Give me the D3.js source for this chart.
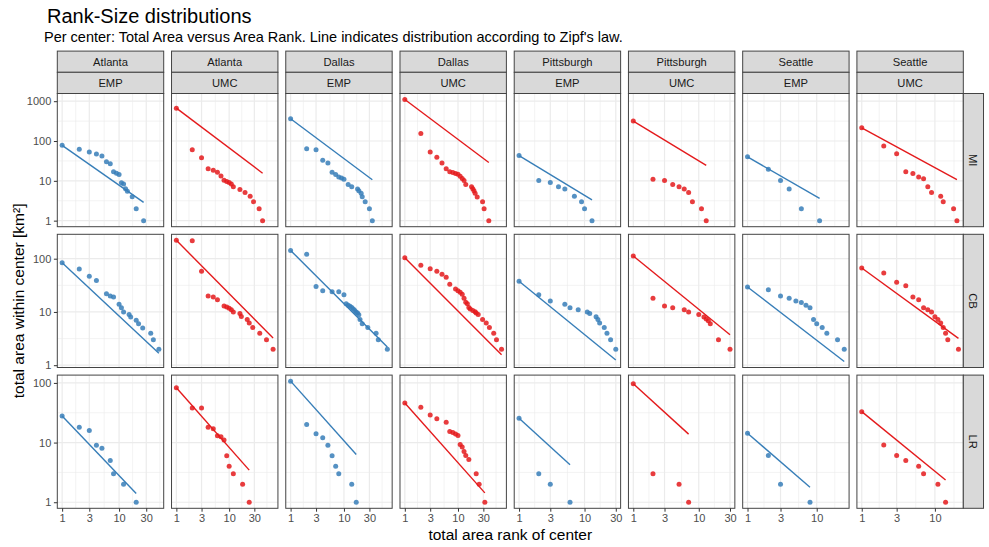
<!DOCTYPE html>
<html>
<head>
<meta charset="utf-8">
<script src="https://cdn.jsdelivr.net/npm/d3@7/dist/d3.min.js"></script>
<style>
  body { margin: 0; background: #fff; }
  svg text { font-family: "Liberation Sans", Arial, Helvetica, sans-serif; }
</style>
</head>
<body>
<svg id="chart" width="989" height="547"></svg>
<script>
// Facet labels
const cities = ["Atlanta", "Atlanta", "Dallas", "Dallas", "Pittsburgh", "Pittsburgh", "Seattle", "Seattle"];
const centerTypes = ["EMP", "UMC", "EMP", "UMC", "EMP", "UMC", "EMP", "UMC"];
const zones = ["MI", "CB", "LR"];
const xTickValues = [1, 3, 10, 30];
const yTickValues = [1, 10, 100, 1000];
const typeColors = { EMP: "#377EB8", UMC: "#E41A1C" };

// Centers as [area rank, total area in km²]
const atlEmpMI = [[1,78],[2,62],[3,53],[4,47],[5,42],[6,30],[7,27],[8,17],[9,15.5],[10,14.5],[11,9],[12,8.3],[13,6.3],[14,5.5],[17,4],[20,2],[27,1]];
const atlEmpCB = [[1,84],[2,64],[3,47],[4,39],[6,22],[7,20],[8,19],[10,14],[11,12],[12,10],[15,9],[16,8],[20,7],[22,6],[26,5],[36,4],[40,3],[50,2]];
const atlEmpLR = [[1,28],[2,18],[3,16],[4,9],[5,8],[7,5],[8,3],[12,2],[20,1]];

const atlUmcMI = [[1,668],[2,60],[3,38],[4,20],[5,18.5],[6,16.5],[7,13.3],[8,10.4],[9,9.6],[10,9.1],[11,8.3],[12,7.1],[16,6.1],[20,5.1],[25,4.1],[29,3],[37,2],[43,1]];
const atlUmcCB = [[1,221],[2,218],[3,58],[4,20],[5,19],[6,17],[8,13],[9,12.4],[10,11.7],[11,11],[12,10],[16,9.3],[17,8.2],[22,7.2],[24,6.2],[28,5.1],[38,4],[51,3],[68,2]];
const atlUmcLR = [[1,83],[2,38],[3,38],[4,18],[5,17],[6,13],[7,12.5],[8,11],[9,6],[10,4],[12,3],[18,2],[24,1]];

const dalEmpMI = [[1,362],[2,64],[3,60],[4,33],[5,28],[6,16.5],[7,14.4],[8,12.4],[9,11.7],[10,11],[12,8.1],[14,7.1],[18,6.2],[19,5.6],[21,4.9],[22,4],[25,3],[30,2],[34,1]];
const dalEmpCB = [[1,143],[2,121],[3,30],[4,25],[6,24],[8,24],[10,21],[11,14.3],[12,13.3],[13,12.8],[14,12.1],[15,11.4],[16,10.7],[17,9.9],[18,9.6],[19,8.9],[20,7.2],[22,6],[28,5.1],[40,4],[44,3],[65,2]];
const dalEmpLR = [[1,107],[2,20],[3,14],[4,12],[5,9],[6,6],[7,4],[8,3],[14,2],[17,1]];

const dalUmcMI = [[1,1100],[2,155],[3,53],[4,39],[5,28],[6,20],[7,16.8],[8,16.2],[9,15.3],[10,14.7],[11,13.1],[12,11.4],[13,10.2],[14,8.1],[18,7.1],[19,6.3],[20,5.6],[21,4.9],[23,3.9],[29,3],[31,2],[38,1]];
const dalUmcCB = [[1,104],[2,75],[3,65],[4,58],[5,51],[6,45],[7,33],[9,27],[10,25],[11,23.4],[12,21.4],[13,18],[14,15.2],[15,14.3],[16,12.1],[17,11.4],[19,10.7],[21,10.1],[22,9.6],[24,9],[29,7.2],[34,6.2],[39,5.1],[47,4],[53,3],[66,2]];
const dalUmcLR = [[1,46],[2,39],[3,29],[4,25],[6,22],[7,15.4],[8,14.8],[9,13.9],[10,13.2],[11,9.3],[12,8.4],[13,7.1],[14,6.1],[16,5.2],[22,3],[25,2],[32,1]];

const pitEmpMI = [[1,43],[2,10.2],[3,9.1],[4,7.1],[5,6.2],[7,4.1],[9,3],[10,2],[13,1]];
const pitEmpCB = [[1,37.6],[2,21],[3,16],[5,14],[6,12],[8,11],[11,10],[12,9.3],[15,8.1],[16,7.2],[17,6.2],[20,5.1],[22,4],[25,3],[30,2]];
const pitEmpLR = [[1,25.6],[2,3],[3,2],[6,1]];

const pitUmcMI = [[1,316],[2,11],[3,10.2],[4,8.1],[5,7.1],[6,6.2],[7,5.1],[8,3],[11,2],[13,1]];
const pitUmcCB = [[1,112],[2,18],[3,13],[4,12],[6,11],[7,10],[10,9],[12,8],[13,7.4],[14,6.8],[15,6],[20,3],[30,2]];
const pitUmcLR = [[1,97],[2,3],[5,2],[7,1]];

const seaEmpMI = [[1,40],[2,19.6],[3,10.2],[4,6.2],[6,2],[11,1]];
const seaEmpCB = [[1,29.4],[2,26],[3,20],[4,18],[5,16],[6,15],[7,13.3],[8,12],[9,7.2],[10,6],[12,5.1],[14,4],[20,3],[25,2]];
const seaEmpLR = [[1,14.3],[2,6.1],[3,2],[8,1]];

const seaUmcMI = [[1,215],[2,75],[3,48],[4,16.8],[5,15.3],[6,12.4],[7,11.2],[8,7.1],[9,5.1],[12,4.1],[13,3],[18,2],[20,1]];
const seaUmcCB = [[1,67],[2,54],[3,36],[4,31],[5,19],[6,17],[7,12],[8,11],[9,10],[10,8.1],[11,7.2],[12,6.2],[13,5.1],[14,4],[15,3],[21,2]];
const seaUmcLR = [[1,33],[2,9.1],[3,6.1],[4,5],[6,4],[7,3],[11,2],[14,1]];

// grid[column][row]
const grid = [
  [atlEmpMI, atlEmpCB, atlEmpLR],
  [atlUmcMI, atlUmcCB, atlUmcLR],
  [dalEmpMI, dalEmpCB, dalEmpLR],
  [dalUmcMI, dalUmcCB, dalUmcLR],
  [pitEmpMI, pitEmpCB, pitEmpLR],
  [pitUmcMI, pitUmcCB, pitUmcLR],
  [seaEmpMI, seaEmpCB, seaEmpLR],
  [seaUmcMI, seaUmcCB, seaUmcLR]
];

// Zipf's law reference: area of the largest center divided by rank
function zipfLine(pts) {
  const first = pts[0], last = pts[pts.length - 1];
  return [[first[0], first[1]], [last[0], first[1] / last[0]]];
}

// ---- layout ----
const svg = d3.select("#chart");
const panelX0 = 57.3, panelW = 106.4, gapX = 7.83;
const panelY0 = 93.5, panelH = 133.2, gapY = 7.6;
const stripH = 21.2, stripW = 20.2;
const tickLen = 3.4, tickPad = 2.6;
const axisFont = 11, stripFont = 11.2;
const frameColor = "#444";

const colLeft = c => panelX0 + c * (panelW + gapX);
const rowTop = r => panelY0 + r * (panelH + gapY);

// log-scale domain with 5% expansion in log space
function expandedLogDomain(values) {
  const lo = Math.log10(d3.min(values)), hi = Math.log10(d3.max(values));
  const pad = (hi - lo) * 0.05;
  return [Math.pow(10, lo - pad), Math.pow(10, hi + pad)];
}

// minor breaks halfway (in log space) between major breaks, extended one step beyond
function minorBreaks(majors, domain) {
  const lim = domain.map(Math.log10);
  let b = majors.filter(v => v >= domain[0] && v <= domain[1]).map(Math.log10);
  if (b.length < 2) return [];
  if (b[0] > lim[0]) b = [b[0] - (b[1] - b[0])].concat(b);
  const n = b.length;
  if (b[n - 1] < lim[1]) b = b.concat([b[n - 1] + (b[n - 1] - b[n - 2])]);
  const out = [];
  for (let i = 0; i < b.length - 1; i++) out.push((b[i] + b[i + 1]) / 2);
  return out.filter(v => v >= lim[0] && v <= lim[1]).map(v => Math.pow(10, v));
}

const xScales = grid.map((col, c) => {
  const ranks = col.flatMap(pts => pts.map(p => p[0]));
  return d3.scaleLog().domain(expandedLogDomain(ranks)).range([colLeft(c), colLeft(c) + panelW]);
});
const yScales = zones.map((z, r) => {
  const vals = grid.flatMap(col => col[r].map(p => p[1]).concat(zipfLine(col[r]).map(p => p[1])));
  return d3.scaleLog().domain(expandedLogDomain(vals)).range([rowTop(r) + panelH, rowTop(r)]);
});

// ---- titles ----
svg.append("text").attr("x", 47).attr("y", 23)
  .attr("font-size", 20).attr("fill", "#000").text("Rank-Size distributions");
svg.append("text").attr("x", 44).attr("y", 41.5)
  .attr("font-size", 14.5).attr("fill", "#000")
  .text("Per center: Total Area versus Area Rank. Line indicates distribution according to Zipf's law.");

// ---- panels ----
grid.forEach((col, c) => {
  const x = xScales[c];
  const color = typeColors[centerTypes[c]];
  col.forEach((pts, r) => {
    const y = yScales[r];
    const g = svg.append("g");
    const left = colLeft(c), top = rowTop(r);
    g.append("rect").attr("x", left).attr("y", top).attr("width", panelW).attr("height", panelH).attr("fill", "#fff");

    const xMaj = xTickValues.filter(v => v >= x.domain()[0] && v <= x.domain()[1]);
    const yMaj = yTickValues.filter(v => v >= y.domain()[0] && v <= y.domain()[1]);
    const xMin = minorBreaks([0.3, 1, 3, 10, 30, 100], x.domain());
    const yMin = minorBreaks([0.1, 1, 10, 100, 1000, 10000], y.domain());

    g.selectAll(".vmin").data(xMin).join("line")
      .attr("x1", d => x(d)).attr("x2", d => x(d)).attr("y1", top).attr("y2", top + panelH)
      .attr("stroke", "#EBEBEB").attr("stroke-width", 0.6);
    g.selectAll(".hmin").data(yMin).join("line")
      .attr("x1", left).attr("x2", left + panelW).attr("y1", d => y(d)).attr("y2", d => y(d))
      .attr("stroke", "#EBEBEB").attr("stroke-width", 0.6);
    g.selectAll(".vmaj").data(xMaj).join("line")
      .attr("x1", d => x(d)).attr("x2", d => x(d)).attr("y1", top).attr("y2", top + panelH)
      .attr("stroke", "#EBEBEB").attr("stroke-width", 1.2);
    g.selectAll(".hmaj").data(yMaj).join("line")
      .attr("x1", left).attr("x2", left + panelW).attr("y1", d => y(d)).attr("y2", d => y(d))
      .attr("stroke", "#EBEBEB").attr("stroke-width", 1.2);

    // Zipf reference line
    g.append("path").datum(zipfLine(pts))
      .attr("d", d3.line().x(d => x(d[0])).y(d => y(d[1])))
      .attr("fill", "none").attr("stroke", color).attr("stroke-width", 1.4);

    // centers
    g.selectAll("circle").data(pts).join("circle")
      .attr("cx", d => x(d[0])).attr("cy", d => y(d[1])).attr("r", 2.5)
      .attr("fill", color).attr("fill-opacity", 0.85);

    g.append("rect").attr("x", left).attr("y", top).attr("width", panelW).attr("height", panelH)
      .attr("fill", "none").attr("stroke", frameColor).attr("stroke-width", 1);

    // axes on the outer panels
    if (c === 0) {
      const ax = svg.append("g").attr("transform", `translate(${left},0)`)
        .call(d3.axisLeft(y).tickValues(yMaj).tickFormat(d => String(d)).tickSize(tickLen).tickPadding(tickPad));
      ax.select(".domain").remove();
      ax.selectAll("line").attr("stroke", "#333");
      ax.selectAll("text").attr("fill", "#4D4D4D").attr("font-size", axisFont).attr("font-family", null);
    }
    if (r === zones.length - 1) {
      const ax = svg.append("g").attr("transform", `translate(0,${top + panelH})`)
        .call(d3.axisBottom(x).tickValues(xMaj).tickFormat(d => String(d)).tickSize(tickLen).tickPadding(tickPad));
      ax.select(".domain").remove();
      ax.selectAll("line").attr("stroke", "#333");
      ax.selectAll("text").attr("fill", "#4D4D4D").attr("font-size", axisFont).attr("font-family", null);
    }
  });

  // column strips: city over center type
  [cities[c], centerTypes[c]].forEach((label, i) => {
    const sy = panelY0 - stripH * (2 - i);
    svg.append("rect").attr("x", colLeft(c)).attr("y", sy).attr("width", panelW).attr("height", stripH)
      .attr("fill", "#D9D9D9").attr("stroke", frameColor).attr("stroke-width", 1);
    svg.append("text").attr("x", colLeft(c) + panelW / 2).attr("y", sy + stripH / 2)
      .attr("text-anchor", "middle").attr("dominant-baseline", "central")
      .attr("font-size", stripFont).attr("fill", "#1A1A1A").text(label);
  });
});

// row strips
zones.forEach((z, r) => {
  const sx = colLeft(grid.length - 1) + panelW;
  svg.append("rect").attr("x", sx).attr("y", rowTop(r)).attr("width", stripW).attr("height", panelH)
    .attr("fill", "#D9D9D9").attr("stroke", frameColor).attr("stroke-width", 1);
  svg.append("text")
    .attr("transform", `translate(${sx + stripW / 2},${rowTop(r) + panelH / 2}) rotate(90)`)
    .attr("text-anchor", "middle").attr("dominant-baseline", "central")
    .attr("font-size", stripFont).attr("fill", "#1A1A1A").text(z);
});

// axis titles
const plotMidX = (colLeft(0) + colLeft(grid.length - 1) + panelW) / 2;
const plotMidY = (rowTop(0) + rowTop(zones.length - 1) + panelH) / 2;
svg.append("text").attr("x", plotMidX).attr("y", 540)
  .attr("text-anchor", "middle").attr("font-size", 15.5).attr("fill", "#000")
  .text("total area rank of center");
svg.append("text").attr("transform", `translate(24,${plotMidY}) rotate(-90)`)
  .attr("text-anchor", "middle").attr("font-size", 15.5).attr("fill", "#000")
  .text("total area within center [km²]");
</script>
</body>
</html>
